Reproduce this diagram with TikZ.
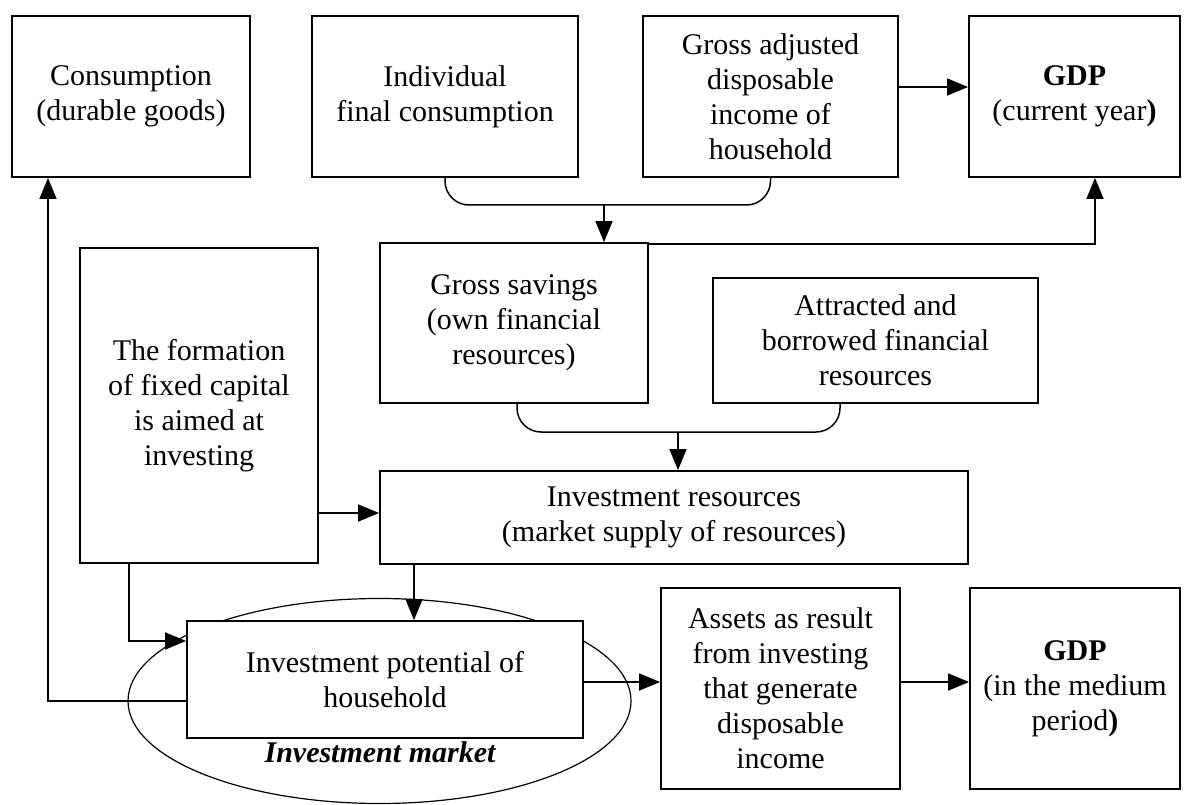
\documentclass[tikz,border=0pt]{standalone}
\usepackage{fontspec}
\setmainfont{Liberation Serif}
\usetikzlibrary{arrows.meta,shapes.geometric}
\begin{document}
\begin{tikzpicture}[x=1pt,y=-1pt,
  box/.style={draw, line width=1.8pt, fill=white, align=center, inner sep=0pt,
    font=\fontsize{30}{35}\selectfont},
  arr/.style={line width=1.5pt, -{Triangle[length=21pt,width=17pt]}},
  conn/.style={line width=1.5pt, rounded corners=24pt}]
\useasboundingbox (0,0) rectangle (1194,805);
% ellipse behind
\node[draw, line width=1.2pt, ellipse, minimum width=503pt, minimum height=205pt, inner sep=0pt] (mkt) at (379.5,701) {};
% top row
\node[box, minimum width=238pt, minimum height=161pt] (cons) at (131,96.5) {Consumption\\(durable goods)};
\node[box, minimum width=266pt, minimum height=161pt] (indiv) at (445,96.5) {Individual\\final consumption};
\node[box, minimum width=255pt, minimum height=161pt] (gadi) at (770.5,96.5) {Gross adjusted\\disposable\\income of\\household};
\node[box, minimum width=211pt, minimum height=161pt] (gdpa) at (1074.5,96.5) {\textbf{GDP}\\(current year\textbf{)}};
% middle
\node[box, minimum width=268pt, minimum height=160pt] (gsav) at (514,323) {Gross savings\\(own financial\\resources)};
\node[box, minimum width=325pt, minimum height=125pt] (attr) at (875.5,340.5) {Attracted and\\borrowed financial\\resources};
\node[box, minimum width=238pt, minimum height=315pt] (form) at (199,405.5) {The formation\\of fixed capital\\is aimed at\\investing};
\node[box, minimum width=588pt, minimum height=93pt] (ires) at (674,517.5) {Investment resources\\(market supply of resources)};
% bottom
\node[box, minimum width=396pt, minimum height=117pt] (ipot) at (385,679.5) {Investment potential of\\household};
\node[box, minimum width=239pt, minimum height=201pt] (assets) at (780.5,688.5) {Assets as result\\from investing\\that generate\\disposable\\income};
\node[box, minimum width=210pt, minimum height=201pt] (gdpb) at (1075,688.5) {\textbf{GDP}\\(in the medium\\period\textbf{)}};
\node[font=\fontsize{30}{35}\selectfont\bfseries\itshape, inner sep=0pt] (mktlabel) at (380,752) {Investment market};
% connectors
\coordinate (m1) at (604,205);
\draw[conn] (indiv.south) |- (m1) -| (gadi.south);
\draw[arr] (m1) -- (m1 |- gsav.north);
\draw[arr] ([yshift=9.5pt]gadi.east) -- ([yshift=9.5pt]gdpa.west);
\draw[arr] ([yshift=-2pt]gsav.north east) -| ([xshift=20.5pt]gdpa.south);
\coordinate (m2) at (678,432);
\draw[conn] ([xshift=3pt]gsav.south) |- (m2) -| ([xshift=-35.5pt]attr.south);
\draw[arr] (m2) -- (m2 |- ires.north);
\draw[arr] ([yshift=-107.5pt]form.east) -- ([yshift=-107.5pt]form.east -| ires.west);
\draw[arr] ([xshift=-70pt]form.south) |- ([yshift=38.5pt]ipot.west);
\draw[arr] ([xshift=-260pt]ires.south) -- ([xshift=29pt]ipot.north);
\draw[arr] ([yshift=-21.5pt]ipot.west) -| ([xshift=-83pt]cons.south);
\draw[arr] ([yshift=-2.5pt]ipot.east) -- ([yshift=-2.5pt]ipot.east -| assets.west);
\draw[arr] ([yshift=6.5pt]assets.east) -- ([yshift=6.5pt]gdpb.west);
\end{tikzpicture}
\end{document}
